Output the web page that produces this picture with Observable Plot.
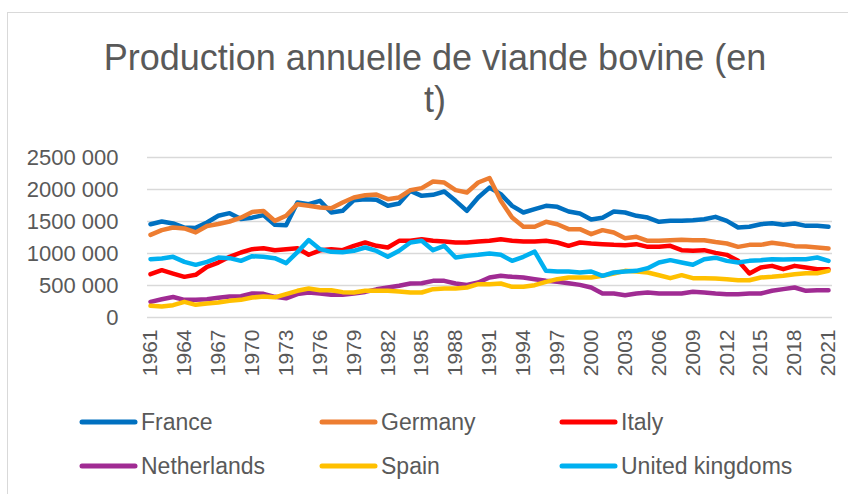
<!DOCTYPE html>
<html><head><meta charset="utf-8">
<script src="https://cdn.jsdelivr.net/npm/d3@7"></script>
<script src="https://cdn.jsdelivr.net/npm/@observablehq/plot@0.6"></script>
<style>
body{margin:0;background:#fff;font-family:"Liberation Sans",Arial,sans-serif;}
#wrap{position:relative;width:848px;height:494px;overflow:hidden;background:#fff;}
#frame{position:absolute;left:7px;top:12px;width:900px;height:600px;border:1px solid #d9d9d9;}
#title{position:absolute;left:0;width:870px;top:37px;text-align:center;font-size:36px;line-height:42px;color:#595959;}
#chart{position:absolute;left:0;top:140px;}
.leg{position:absolute;height:26px;font-size:23px;color:#595959;display:flex;align-items:center;white-space:nowrap;}
.leg svg{margin-right:3px;}
</style>
</head><body>
<div id="wrap">
  <div id="frame"></div>
  <div id="title">Production annuelle de viande bovine (en<br>t)</div>
  <div id="chart"></div>
  <div id="legend"></div>
</div>
<script>
// Data (thousand tonnes), 1961–2021
const firstYear = 1961, lastYear = 2021;
const countries = ["France", "Germany", "Italy", "Netherlands", "Spain", "United kingdoms"];
const colors = ["#0070C0", "#ED7D31", "#FF0000", "#A02B93", "#FFC000", "#00B0F0"];
const france = [1458,1500,1469,1406,1400,1484,1590,1630,1540,1560,1600,
  1448,1440,1797,1771,1823,1641,1667,1833,1849,1840,
  1745,1781,1979,1901,1917,1969,1823,1667,1875,2030,
  1927,1745,1641,1693,1745,1729,1656,1625,1530,1560,
  1656,1641,1589,1562,1495,1510,1510,1521,1536,1573,
  1510,1406,1417,1458,1474,1448,1469,1432,1432,1417];
const germany = [1292,1365,1406,1391,1330,1430,1460,1500,1560,1650,1665,
  1510,1589,1771,1745,1719,1708,1797,1875,1911,1920,
  1849,1875,1990,2021,2125,2109,1990,1953,2109,2180,
  1823,1562,1417,1417,1495,1458,1380,1380,1302,1365,
  1328,1240,1260,1198,1198,1208,1214,1208,1208,1180,
  1156,1104,1135,1135,1167,1146,1115,1109,1094,1078];
const italy = [677,740,687,635,667,792,859,948,1016,1068,1083,
  1052,1068,1083,980,1050,1068,1052,1120,1172,1120,
  1094,1198,1198,1224,1198,1188,1172,1172,1188,1200,
  1224,1198,1188,1188,1198,1172,1120,1172,1156,1146,
  1135,1130,1146,1104,1104,1120,1052,1042,1052,1010,
  979,885,687,781,807,755,807,781,755,755];
const netherlands = [245,286,320,276,276,286,307,328,333,375,370,
  323,300,365,390,375,354,354,375,400,440,
  469,495,531,536,573,573,531,510,547,625,
  651,635,625,599,573,557,536,510,469,375,
  375,349,375,390,375,375,375,401,390,375,
  365,365,375,375,417,443,469,417,427,427];
const spain = [182,172,193,245,198,219,234,260,276,312,328,
  315,365,417,453,427,427,396,391,417,417,
  417,406,391,391,443,453,453,469,521,521,
  531,479,479,505,557,599,625,625,625,651,
  687,729,719,703,661,615,661,615,615,609,
  599,583,583,625,635,651,677,692,692,729];
const unitedKingdom = [911,922,948,870,823,870,937,927,885,958,948,
  927,850,1021,1210,1068,1026,1020,1042,1094,1040,
  948,1042,1172,1198,1052,1120,937,963,979,1000,
  979,885,948,1030,729,719,719,703,719,651,
  703,719,729,771,859,896,859,823,911,935,
  885,859,885,896,911,906,911,911,937,885];
const seriesValues = [france, germany, italy, netherlands, spain, unitedKingdom];
const xTicks = d3.range(firstYear, lastYear + 1, 3);
const yTicks = [0, 500000, 1000000, 1500000, 2000000, 2500000];
const yTickLabels = ["0", "500 000", "1000 000", "1500 000", "2000 000", "2500 000"];

const data = [];
countries.forEach((c, i) => {
  seriesValues[i].forEach((v, j) => data.push({country: c, year: firstYear + j, value: v * 1000}));
});

const chart = Plot.plot({
  width: 848, height: 250,
  marginTop: 17, marginBottom: 73, marginLeft: 150, marginRight: 20,
  style: {fontFamily: "'Liberation Sans', Arial, sans-serif", fontSize: "20px", color: "#595959", background: "transparent", overflow: "visible"},
  x: {domain: [firstYear, lastYear]},
  y: {domain: [0, 2500000]},
  color: {domain: countries, range: colors},
  marks: [
    Plot.ruleY(yTicks, {stroke: "#d9d9d9", strokeWidth: 1.5, insetLeft: -3, insetRight: -4}),
    Plot.axisY({ticks: yTicks, tickSize: 0, tickPadding: 32, label: null, fill: "#595959", fontSize: 22,
      tickFormat: d => yTickLabels[yTicks.indexOf(d)]}),
    Plot.axisX({ticks: xTicks, tickSize: 0, tickPadding: 12, tickRotate: -90, label: null, fill: "#595959", fontSize: 21,
      tickFormat: d => String(d)}),
    Plot.lineY(data, {x: "year", y: "value", z: "country", stroke: "country", strokeWidth: 4.5,
      strokeLinejoin: "round", strokeLinecap: "round"})
  ]
});
document.getElementById("chart").appendChild(chart);

// Legend
const colLeft = [79, 319, 559];
const rowTop = [409, 453];
const legend = document.getElementById("legend");
countries.forEach((c, i) => {
  const d = document.createElement("div");
  d.className = "leg";
  d.style.left = colLeft[i % 3] + "px";
  d.style.top = rowTop[Math.floor(i / 3)] + "px";
  d.innerHTML = `<svg width="59" height="8"><line x1="3" y1="4" x2="56" y2="4" stroke="${colors[i]}" stroke-width="5" stroke-linecap="round"/></svg><span>${c}</span>`;
  legend.appendChild(d);
});
</script>
</body></html>
